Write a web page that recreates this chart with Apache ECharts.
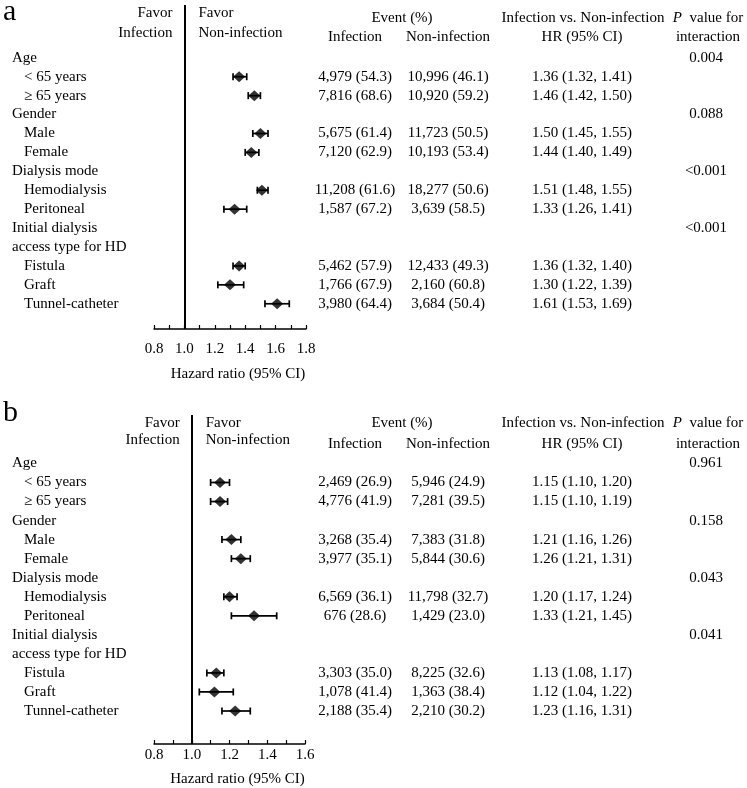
<!DOCTYPE html>
<html><head><meta charset="utf-8">
<script src="https://cdn.jsdelivr.net/npm/echarts@6/dist/echarts.min.js"></script>
<style>html,body{margin:0;padding:0;background:#fff}#c{width:747px;height:788px}</style>
</head><body><div id="c"></div>
<script>
// ---------- data ----------
const rowLabels = ['Age','< 65 years','\u2265 65 years','Gender','Male','Female','Dialysis mode','Hemodialysis','Peritoneal','Initial dialysis','access type for HD','Fistula','Graft','Tunnel-catheter'];
const rowIndent = [0,1,1,0,1,1,0,1,1,0,0,1,1,1];
const subgroupRows = [1,2,4,5,7,8,11,12,13];
const pRows = [0,3,6,9];

// panel a
const aHR = [1.36,1.46,1.50,1.44,1.51,1.33,1.36,1.30,1.61];
const aLo = [1.32,1.42,1.45,1.40,1.48,1.26,1.32,1.22,1.53];
const aHi = [1.41,1.50,1.55,1.49,1.55,1.41,1.40,1.39,1.69];
const aInf = ['4,979 (54.3)','7,816 (68.6)','5,675 (61.4)','7,120 (62.9)','11,208 (61.6)','1,587 (67.2)','5,462 (57.9)','1,766 (67.9)','3,980 (64.4)'];
const aNon = ['10,996 (46.1)','10,920 (59.2)','11,723 (50.5)','10,193 (53.4)','18,277 (50.6)','3,639 (58.5)','12,433 (49.3)','2,160 (60.8)','3,684 (50.4)'];
const aP = ['0.004','0.088','<0.001','<0.001'];
const aTicks = [0.8,1.8];

// panel b
const bHR = [1.15,1.15,1.21,1.26,1.20,1.33,1.13,1.12,1.23];
const bLo = [1.10,1.10,1.16,1.21,1.17,1.21,1.08,1.04,1.16];
const bHi = [1.20,1.19,1.26,1.31,1.24,1.45,1.17,1.22,1.31];
const bInf = ['2,469 (26.9)','4,776 (41.9)','3,268 (35.4)','3,977 (35.1)','6,569 (36.1)','676 (28.6)','3,303 (35.0)','1,078 (41.4)','2,188 (35.4)'];
const bNon = ['5,946 (24.9)','7,281 (39.5)','7,383 (31.8)','5,844 (30.6)','11,798 (32.7)','1,429 (23.0)','8,225 (32.6)','1,363 (38.4)','2,210 (30.2)'];
const bP = ['0.961','0.158','0.043','0.041'];
const bTicks = [0.8,1.6];

const axisName = 'Hazard ratio (95% CI)';

// ---------- layout ----------
const FONT = 'Liberation Serif';
const FS = 15;
const COLX = {label:12, indent:24, inf:355, non:448, hr:582, p:706};

const panels = [
  {tag:'a', hr:aHR, lo:aLo, hi:aHi, inf:aInf, non:aNon, p:aP, range:aTicks,
   top:5, bottom:329, row0:57.8, step:18.92, left:154, right:306,
   labelMargin:13, nameGap:38,
   hdrLeft:[13.5,33.5], hdrRight:[18,37.5], tagY:11},
  {tag:'b', hr:bHR, lo:bLo, hi:bHi, inf:bInf, non:bNon, p:bP, range:bTicks,
   top:415, bottom:745, row0:463.6, step:19.1, left:154, right:305,
   labelMargin:4, nameGap:28,
   hdrLeft:[423,440.5], hdrRight:[423,444], tagY:412}
];

const grids = [], xAxes = [], yAxes = [], series = [], graphics = [];

function txt(x, y, s, align, extra) {
  return Object.assign({type:'text', x:x, y:y, silent:true,
    style:{text:s, fill:'#000', font: FS + 'px "' + FONT + '"', textAlign:align||'left', textVerticalAlign:'middle'}}, extra||{});
}

panels.forEach((P, gi) => {
  grids.push({left:P.left, top:P.top, width:P.right - P.left, height:P.bottom - P.top, containLabel:false});
  xAxes.push({
    type:'value', gridIndex:gi, min:P.range[0], max:P.range[1], interval:0.1,
    name:axisName, nameLocation:'middle', nameGap:P.nameGap,
    nameTextStyle:{color:'#000', fontFamily:FONT, fontSize:FS, padding:[0,0,0,16]},
    axisLine:{show:true, onZero:false, lineStyle:{color:'#000', width:1.5}},
    axisTick:{show:true, inside:true, length:4, lineStyle:{color:'#000', width:1.2}},
    splitLine:{show:false},
    axisLabel:{color:'#000', fontFamily:FONT, fontSize:FS, margin:P.labelMargin,
      formatter: v => (Math.round(v*10) % 2 === 0 ? v.toFixed(1) : '')}
  });
  const ymin = (P.top - P.row0) / P.step;
  const ymax = (P.bottom - P.row0) / P.step;
  yAxes.push({type:'value', gridIndex:gi, inverse:true, min:ymin, max:ymax, show:false});

  // error bars
  series.push({
    type:'custom', xAxisIndex:gi, yAxisIndex:gi, silent:true, clip:false,
    encode:{x:[0,1], y:2},
    data: subgroupRows.map((r,i) => [P.lo[i], P.hi[i], r]),
    renderItem: (params, api) => {
      const a = api.coord([api.value(0), api.value(2)]);
      const b = api.coord([api.value(1), api.value(2)]);
      const h = 3.5, st = {stroke:'#000', lineWidth:1.7};
      return {type:'group', children:[
        {type:'line', shape:{x1:a[0], y1:a[1], x2:b[0], y2:b[1]}, style:st},
        {type:'line', shape:{x1:a[0], y1:a[1]-h, x2:a[0], y2:a[1]+h}, style:st},
        {type:'line', shape:{x1:b[0], y1:b[1]-h, x2:b[0], y2:b[1]+h}, style:st}
      ]};
    }
  });
  // point estimates + reference line
  series.push({
    type:'scatter', xAxisIndex:gi, yAxisIndex:gi, silent:true,
    symbol:'diamond', symbolSize:[12,11], itemStyle:{color:'#000'},
    data: subgroupRows.map((r,i) => [P.hr[i], r]),
    markLine:{silent:true, symbol:'none', label:{show:false}, animation:false,
      lineStyle:{color:'#000', width:2, type:'solid'}, data:[{xAxis:1}]}
  });
  // table text
  series.push({
    type:'custom', xAxisIndex:gi, yAxisIndex:gi, silent:true, clip:false,
    encode:{x:0, y:1},
    data: rowLabels.map((s, r) => [1, r]),
    renderItem: (params, api) => {
      const r = api.value(1);
      const y = api.coord([1, r])[1];
      const ch = [txt(rowIndent[r] ? COLX.indent : COLX.label, y, rowLabels[r], 'left')];
      const si = subgroupRows.indexOf(r);
      if (si >= 0) {
        ch.push(txt(COLX.inf, y, P.inf[si], 'center'));
        ch.push(txt(COLX.non, y, P.non[si], 'center'));
        ch.push(txt(COLX.hr, y, P.hr[si].toFixed(2) + ' (' + P.lo[si].toFixed(2) + ', ' + P.hi[si].toFixed(2) + ')', 'center'));
      }
      const pi = pRows.indexOf(r);
      if (pi >= 0) ch.push(txt(COLX.p, y, P.p[pi], 'center'));
      return {type:'group', children:ch};
    }
  });

  // headers
  const line = P.left + (1 - P.range[0]) / (P.range[1] - P.range[0]) * (P.right - P.left);
  graphics.push({type:'text', left:3, top:P.tagY - 14, silent:true,
    style:{text:P.tag, fill:'#000', font:'30px "' + FONT + '"'}});
  graphics.push(txt(line - 12, P.hdrLeft[0], 'Favor', 'right'));
  graphics.push(txt(line - 12, P.hdrLeft[1], 'Infection', 'right'));
  graphics.push(txt(line + 14, P.hdrLeft[0], 'Favor', 'left'));
  graphics.push(txt(line + 14, P.hdrLeft[1], 'Non-infection', 'left'));
  graphics.push(txt(402, P.hdrRight[0], 'Event (%)', 'center'));
  graphics.push(txt(COLX.inf, P.hdrRight[1], 'Infection', 'center'));
  graphics.push(txt(COLX.non, P.hdrRight[1], 'Non-infection', 'center'));
  graphics.push(txt(583, P.hdrRight[0], 'Infection vs. Non-infection', 'center'));
  graphics.push(txt(COLX.hr, P.hdrRight[1], 'HR (95% CI)', 'center'));
  graphics.push({type:'text', x:708, y:P.hdrRight[0], silent:true,
    style:{text:'{i|P}  value for', fill:'#000', font: FS + 'px "' + FONT + '"',
      textAlign:'center', textVerticalAlign:'middle',
      rich:{i:{fontStyle:'italic', fontFamily:FONT, fontSize:FS, fill:'#000'}}}});
  graphics.push(txt(708, P.hdrRight[1], 'interaction', 'center'));
});

const chart = echarts.init(document.getElementById('c'), null, {renderer:'canvas'});
chart.setOption({
  animation:false,
  backgroundColor:'#fff',
  textStyle:{fontFamily:FONT},
  grid:grids, xAxis:xAxes, yAxis:yAxes, series:series, graphic:graphics
});
</script></body></html>
